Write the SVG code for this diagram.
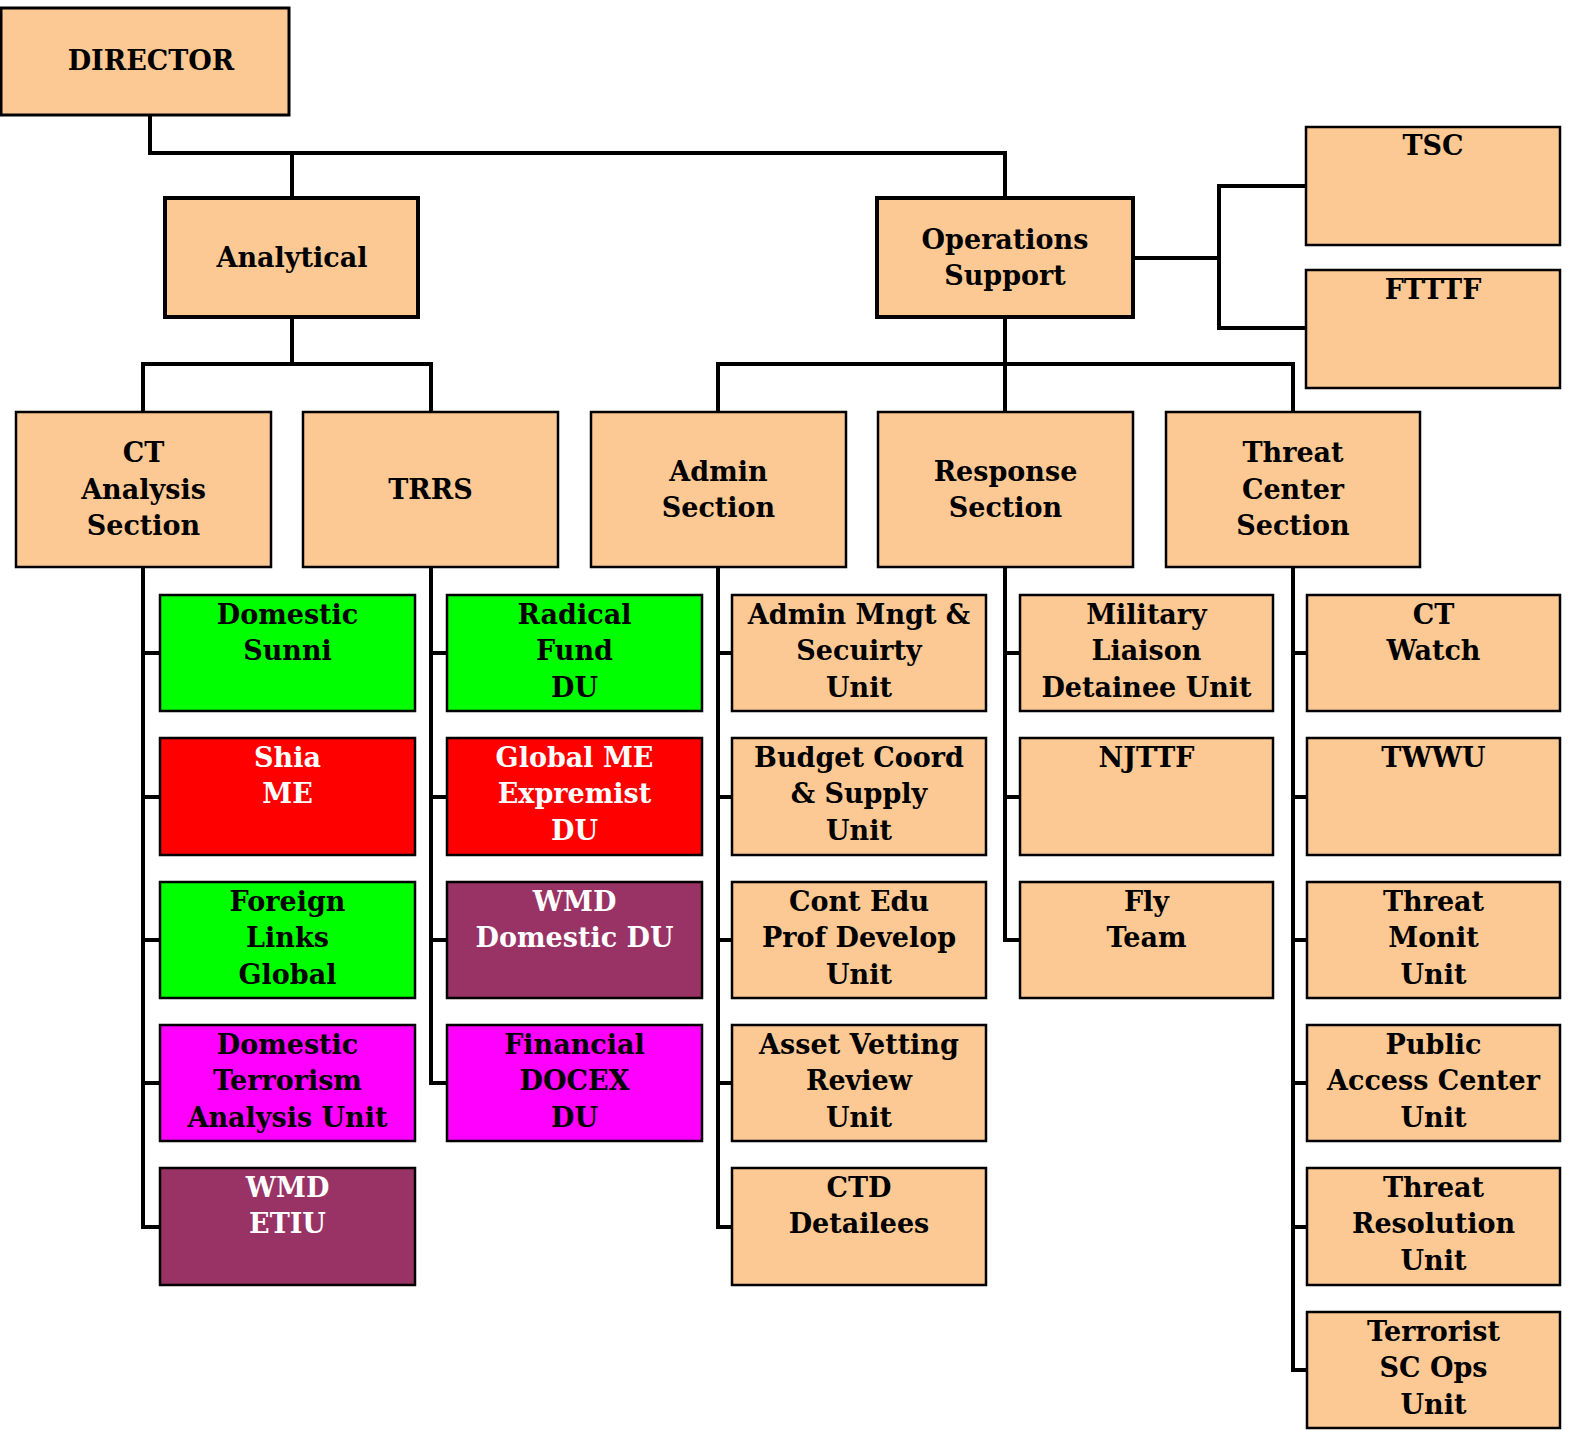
<svg xmlns="http://www.w3.org/2000/svg" width="1570" height="1431" viewBox="0 0 1570 1431">
<style>
.b{fill:#FCC995;stroke:#000;stroke-width:2.5}
.t{stroke-width:4}
.g{fill:#00FF00;stroke:#000;stroke-width:2.5}
.r{fill:#FF0000;stroke:#000;stroke-width:2.5}
.m{fill:#FF00FF;stroke:#000;stroke-width:2.5}
.p{fill:#993366;stroke:#000;stroke-width:2.5}
text{font-family:"DejaVu Serif","Liberation Serif",serif;font-weight:bold;font-size:27px;text-anchor:middle;fill:#000}
.w{fill:#fff}
.c{fill:none;stroke:#000;stroke-width:4}
</style>
<rect width="1570" height="1431" fill="#fff"/>
<g id="connectors" class="c">
<path d="M150 115V153H1005V198M292 153V198"/>
<path d="M1133 258H1219M1306 186H1219V328H1306"/>
<path d="M292 317V364M143 412V364H431V412"/>
<path d="M1005 317V412M718 412V364H1293V412"/>
<path d="M143 567V1227H160M143 653H160M143 797H160M143 940H160M143 1083H160"/>
<path d="M431 567V1083H447M431 653H447M431 797H447M431 940H447"/>
<path d="M718 567V1227H732M718 653H732M718 797H732M718 940H732M718 1083H732"/>
<path d="M1005 567V940H1020M1005 653H1020M1005 797H1020"/>
<path d="M1293 567V1370H1307M1293 653H1307M1293 797H1307M1293 940H1307M1293 1083H1307M1293 1227H1307"/>
</g>
<g id="director"><rect class="b" x="1" y="8" width="288" height="107" style="stroke-width:3"/><text x="151" y="70">DIRECTOR</text></g>
<g id="analytical"><rect class="b t" x="165" y="198" width="253" height="119"/><text x="292" y="267">Analytical</text></g>
<g id="ops"><rect class="b t" x="877" y="198" width="256" height="119"/><text x="1005" y="249">Operations</text><text x="1005" y="285">Support</text></g>
<g id="tsc"><rect class="b" x="1306" y="127" width="254" height="118"/><text x="1433" y="155">TSC</text></g>
<g id="ftttf"><rect class="b" x="1306" y="270" width="254" height="118"/><text x="1433" y="299">FTTTF</text></g>
<g id="ct-section"><rect class="b" x="16" y="412" width="255" height="155"/><text x="143.5" y="462">CT</text><text x="143.5" y="499">Analysis</text><text x="143.5" y="535">Section</text></g>
<g id="trrs"><rect class="b" x="303" y="412" width="255" height="155"/><text x="430.5" y="499">TRRS</text></g>
<g id="admin-section"><rect class="b" x="591" y="412" width="255" height="155"/><text x="718.5" y="481">Admin</text><text x="718.5" y="517">Section</text></g>
<g id="response-section"><rect class="b" x="878" y="412" width="255" height="155"/><text x="1005.5" y="481">Response</text><text x="1005.5" y="517">Section</text></g>
<g id="threat-section"><rect class="b" x="1166" y="412" width="254" height="155"/><text x="1293" y="462">Threat</text><text x="1293" y="499">Center</text><text x="1293" y="535">Section</text></g>

<g id="domestic-sunni"><rect class="g" x="160" y="595" width="255" height="116"/><text x="287.5" y="624">Domestic</text><text x="287.5" y="660">Sunni</text></g>
<g id="shia-me"><rect class="r" x="160" y="738" width="255" height="117"/><text class="w" x="287.5" y="767">Shia</text><text class="w" x="287.5" y="803">ME</text></g>
<g id="foreign-links"><rect class="g" x="160" y="882" width="255" height="116"/><text x="287.5" y="911">Foreign</text><text x="287.5" y="947">Links</text><text x="287.5" y="984">Global</text></g>
<g id="dtau"><rect class="m" x="160" y="1025" width="255" height="116"/><text x="287.5" y="1054">Domestic</text><text x="287.5" y="1090">Terrorism</text><text x="287.5" y="1127">Analysis Unit</text></g>
<g id="wmd-etiu"><rect class="p" x="160" y="1168" width="255" height="117"/><text class="w" x="287.5" y="1197">WMD</text><text class="w" x="287.5" y="1233">ETIU</text></g>

<g id="radical-fund"><rect class="g" x="447" y="595" width="255" height="116"/><text x="574.5" y="624">Radical</text><text x="574.5" y="660">Fund</text><text x="574.5" y="697">DU</text></g>
<g id="global-me"><rect class="r" x="447" y="738" width="255" height="117"/><text class="w" x="574.5" y="767">Global ME</text><text class="w" x="574.5" y="803">Expremist</text><text class="w" x="574.5" y="840">DU</text></g>
<g id="wmd-domestic"><rect class="p" x="447" y="882" width="255" height="116"/><text class="w" x="574.5" y="911">WMD</text><text class="w" x="574.5" y="947">Domestic DU</text></g>
<g id="financial"><rect class="m" x="447" y="1025" width="255" height="116"/><text x="574.5" y="1054">Financial</text><text x="574.5" y="1090">DOCEX</text><text x="574.5" y="1127">DU</text></g>

<g id="admin-mngt"><rect class="b" x="732" y="595" width="254" height="116"/><text x="859" y="624">Admin Mngt &amp;</text><text x="859" y="660">Secuirty</text><text x="859" y="697">Unit</text></g>
<g id="budget"><rect class="b" x="732" y="738" width="254" height="117"/><text x="859" y="767">Budget Coord</text><text x="859" y="803">&amp; Supply</text><text x="859" y="840">Unit</text></g>
<g id="cont-edu"><rect class="b" x="732" y="882" width="254" height="116"/><text x="859" y="911">Cont Edu</text><text x="859" y="947">Prof Develop</text><text x="859" y="984">Unit</text></g>
<g id="asset-vetting"><rect class="b" x="732" y="1025" width="254" height="116"/><text x="859" y="1054">Asset Vetting</text><text x="859" y="1090">Review</text><text x="859" y="1127">Unit</text></g>
<g id="ctd-detailees"><rect class="b" x="732" y="1168" width="254" height="117"/><text x="859" y="1197">CTD</text><text x="859" y="1233">Detailees</text></g>

<g id="military-liaison"><rect class="b" x="1020" y="595" width="253" height="116"/><text x="1146.5" y="624">Military</text><text x="1146.5" y="660">Liaison</text><text x="1146.5" y="697">Detainee Unit</text></g>
<g id="njttf"><rect class="b" x="1020" y="738" width="253" height="117"/><text x="1146.5" y="767">NJTTF</text></g>
<g id="fly-team"><rect class="b" x="1020" y="882" width="253" height="116"/><text x="1146.5" y="911">Fly</text><text x="1146.5" y="947">Team</text></g>

<g id="ct-watch"><rect class="b" x="1307" y="595" width="253" height="116"/><text x="1433.5" y="624">CT</text><text x="1433.5" y="660">Watch</text></g>
<g id="twwu"><rect class="b" x="1307" y="738" width="253" height="117"/><text x="1433.5" y="767">TWWU</text></g>
<g id="threat-monit"><rect class="b" x="1307" y="882" width="253" height="116"/><text x="1433.5" y="911">Threat</text><text x="1433.5" y="947">Monit</text><text x="1433.5" y="984">Unit</text></g>
<g id="public-access"><rect class="b" x="1307" y="1025" width="253" height="116"/><text x="1433.5" y="1054">Public</text><text x="1433.5" y="1090">Access Center</text><text x="1433.5" y="1127">Unit</text></g>
<g id="threat-resolution"><rect class="b" x="1307" y="1168" width="253" height="117"/><text x="1433.5" y="1197">Threat</text><text x="1433.5" y="1233">Resolution</text><text x="1433.5" y="1270">Unit</text></g>
<g id="terrorist-sc"><rect class="b" x="1307" y="1312" width="253" height="116"/><text x="1433.5" y="1341">Terrorist</text><text x="1433.5" y="1377">SC Ops</text><text x="1433.5" y="1414">Unit</text></g>
</svg>
